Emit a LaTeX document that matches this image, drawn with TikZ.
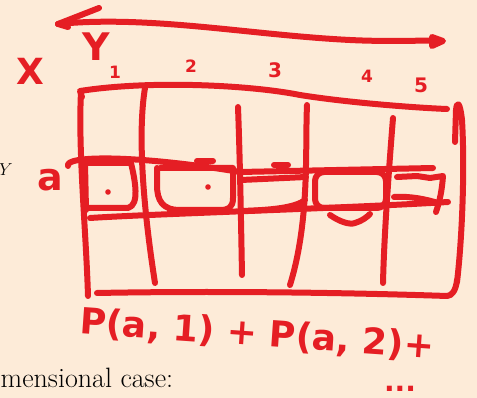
\documentclass[tikz,border=0pt]{standalone}
\usepackage{fontspec}
\newfontfamily\handfont{DejaVu Sans}
\definecolor{paper}{RGB}{253,235,216}
\definecolor{pen}{RGB}{229,30,36}
\begin{document}
\begin{tikzpicture}[x=1pt,y=-1pt,
  hand/.style={draw=pen,line width=6pt,line cap=round,line join=round},
  hw/.style={text=pen,inner sep=0pt,font=\handfont\bfseries\fontsize{#1}{#1}\selectfont},
  dotmark/.style={fill=pen,draw=none}]
\useasboundingbox (0,0) rectangle (477,398);
\fill[paper] (0,0) rectangle (477,398);

% black text of the page behind
\node[anchor=base west,inner sep=0pt,font=\fontsize{28}{32}\selectfont] (txt) at (0.5,387) {mensional case:};
\node[anchor=base east,inner sep=0pt,font=\fontsize{17}{20}\selectfont] (ytxt) at (13,176) {$Y$};

% top double arrow
\coordinate (al) at (58,24);
\coordinate (ar) at (440,41);
\draw[hand] (al) .. controls (150,15) and (250,35) .. (350,40) .. controls (390,42) and (420,40) .. (ar);
\draw[hand] (al) -- (99,8);
\draw[hand] (al) -- (68,27);
\filldraw[hand,fill=pen] (432,37) -- (443,41) -- (432,46) -- cycle;

% labels on top
\node[hw=36] (lx) at (30,71) {X};
\node[hw=38] (ly) at (96,47) {Y};
\node[hw=17] (n1) at (115,72) {1};
\node[hw=17] (n2) at (191,66) {2};
\node[hw=20] (n3) at (275,70) {3};
\node[hw=17] (n4) at (367,76) {4};
\node[hw=20] (n5) at (421,85) {5};

% outer frame
\draw[hand] (82,97) -- (80,91) .. controls (150,80) and (250,85) .. (300,95) .. controls (350,103) and (420,108) .. (447,109);
\draw[hand] (81,92) .. controls (78,150) and (86,230) .. (88,296);
\draw[hand] (97,293) .. controls (200,291) and (330,292) .. (447,296) .. controls (452,296) and (456,290) .. (457,280);
\draw[hand] (455,142) -- (456,110) .. controls (457,100) and (460,102) .. (462,120) .. controls (465,170) and (462,240) .. (457,282);

% vertical lines
\draw[hand] (145,88) .. controls (138,130) and (142,200) .. (155,283);
\draw[hand] (238,107) .. controls (240,160) and (241,220) .. (242,275);
\draw[hand] (307,105) .. controls (305,150) and (310,220) .. (290,285);
\draw[hand] (393,118) .. controls (388,180) and (384,240) .. (383,283);

% row band
\draw[hand] (68,166) .. controls (64,156) and (130,154) .. (240,172) -- (433,168);
\draw[hand] (90,218) .. controls (150,214) and (350,208) .. (448,202);

% cell 1
\draw[hand] (86,210) -- (85,163) -- (131,163) .. controls (135,180) and (140,205) .. (128,208) -- (88,208);
\fill[dotmark] (108,192) circle (2.8);
% cell 2
\draw[hand] (160,168) -- (233,168) -- (233,198) .. controls (233,208) and (228,210) .. (220,210) -- (180,210) .. controls (162,210) and (157,200) .. (157,185) -- (157,168);
\fill[dotmark] (208,187) circle (2.8);
\draw[hand] (197,161) -- (213,161);
% cell 3
\draw[hand] (241,180) -- (306,177);
\draw[hand] (242,211) .. controls (270,210) and (295,208) .. (305,200);
\draw[hand] (274,165) -- (288,165);
% cell 4
\draw[hand,rounded corners=9pt] (315,172) rectangle (386,208);
\draw[hand] (330,215) .. controls (340,222) and (350,225) .. (355,223) .. controls (362,221) and (367,217) .. (370,214);
% cell 5
\draw[hand] (397,177) -- (417,176) -- (430,178) -- (443,176) .. controls (442,190) and (440,200) .. (436,212);
\draw[hand] (394,197) .. controls (410,196) and (425,199) .. (438,203);

% row label
\node[hw=38] (la) at (50,180) {a};

% formula
\node[hw=36,rotate=-4] (sum) at (257,335) {P(a, 1) + P(a, 2)+};
\node[hw=28,anchor=base] (dots) at (400,391) {...};
\end{tikzpicture}
\end{document}
